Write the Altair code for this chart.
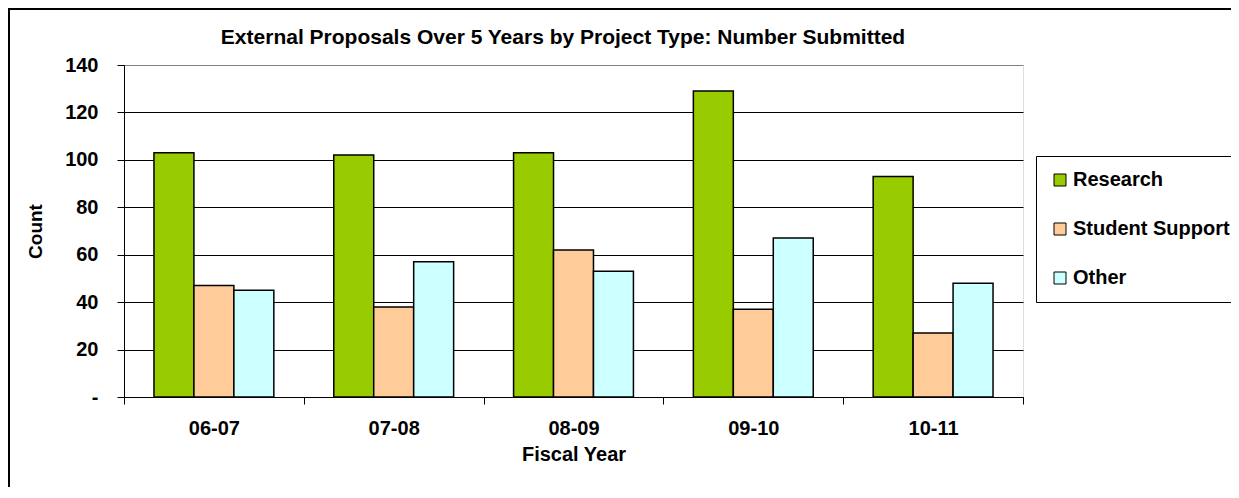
import altair as alt
import pandas as pd

title_text = "External Proposals Over 5 Years by Project Type: Number Submitted"
years = ["06-07", "07-08", "08-09", "09-10", "10-11"]
types = ["Research", "Student Support", "Other"]
research = [103, 102, 103, 129, 93]
student_support = [47, 38, 62, 37, 27]
other = [45, 57, 53, 67, 48]
colors = ["#99CC00", "#FFCC99", "#CCFFFF"]
y_ticks = [0, 20, 40, 60, 80, 100, 120, 140]

rows = []
for t, vals in zip(types, [research, student_support, other]):
    for yr, v in zip(years, vals):
        rows.append({"year": yr, "type": t, "count": v})
df = pd.DataFrame(rows)

FONT = "Liberation Sans"
PAD_L, PAD_T, PAD_R, PAD_B = 116, 57, 208, 90
W, H = 899, 332

bars = alt.Chart(df).mark_bar(stroke="black", strokeWidth=1.5).encode(
    x=alt.X(
        "year:N",
        sort=years,
        scale=alt.Scale(paddingInner=0, paddingOuter=0),
        axis=alt.Axis(
            title="Fiscal Year",
            labelAngle=0,
            tickBand="extent",
            tickSize=7,
            labelPadding=14,
            titlePadding=6,
            labelFontSize=20,
            titleFontSize=20,
            labelFont=FONT,
            titleFont=FONT,
            labelFontWeight="bold",
            titleFontWeight="bold",
            labelColor="black",
            titleColor="black",
            domainColor="black",
            tickColor="black",
        ),
    ),
    xOffset=alt.XOffset(
        "type:N", sort=types, scale=alt.Scale(paddingInner=0, paddingOuter=0.75)
    ),
    y=alt.Y(
        "count:Q",
        scale=alt.Scale(domain=[0, 140]),
        axis=alt.Axis(
            title="Count",
            values=y_ticks,
            labelExpr="datum.value == 0 ? '-' : datum.label",
            tickSize=7,
            labelPadding=19,
            titlePadding=19,
            labelFontSize=20,
            titleFontSize=19,
            labelFont=FONT,
            titleFont=FONT,
            labelFontWeight="bold",
            titleFontWeight="bold",
            labelColor="black",
            titleColor="black",
            domainColor="black",
            tickColor="black",
            grid=True,
            gridColor={"condition": {"test": "datum.value == 140", "value": "#808080"}, "value": "black"},
            gridWidth=1,
        ),
    ),
    color=alt.Color(
        "type:N",
        sort=types,
        scale=alt.Scale(domain=types, range=colors),
        legend=alt.Legend(
            title=None,
            orient="none",
            legendX=912,
            legendY=91,
            padding=14,
            rowPadding=29,
            strokeColor="black",
            fillColor="white",
            symbolType="square",
            symbolSize=144,
            symbolStrokeColor="black",
            symbolStrokeWidth=1,
            labelFontSize=20,
            labelFont=FONT,
            labelFontWeight="bold",
            labelColor="black",
            labelOffset=3,
            labelLimit=300,
        ),
    ),
)

frame_df = pd.DataFrame({"a": [0]})
top_line = alt.Chart(frame_df).mark_rect(color="black").encode(
    x=alt.value(-PAD_L), x2=alt.value(W + PAD_R), y=alt.value(-PAD_T), y2=alt.value(-PAD_T + 2)
)
left_line = alt.Chart(frame_df).mark_rect(color="black").encode(
    x=alt.value(-PAD_L), x2=alt.value(-PAD_L + 2), y=alt.value(-PAD_T), y2=alt.value(H + PAD_B)
)

title = alt.Chart(pd.DataFrame({"t": [title_text]})).mark_text(
    font=FONT, fontSize=21, fontWeight="bold", color="black",
    align="center", baseline="alphabetic",
).encode(
    x=alt.value(439), y=alt.value(-21), text="t:N"
)

chart = alt.layer(top_line, left_line, bars, title).properties(
    width=W,
    height=H,
    autosize=alt.AutoSizeParams(type="none"),
    padding={"left": PAD_L, "top": PAD_T, "right": PAD_R, "bottom": PAD_B},
).configure_view(
    stroke="#808080", strokeWidth=2, fill="white"
).configure_axis(
    domainWidth=1.5,
).configure(background="white")

chart.save("out.html", embed_options={"renderer": "svg", "actions": False})
